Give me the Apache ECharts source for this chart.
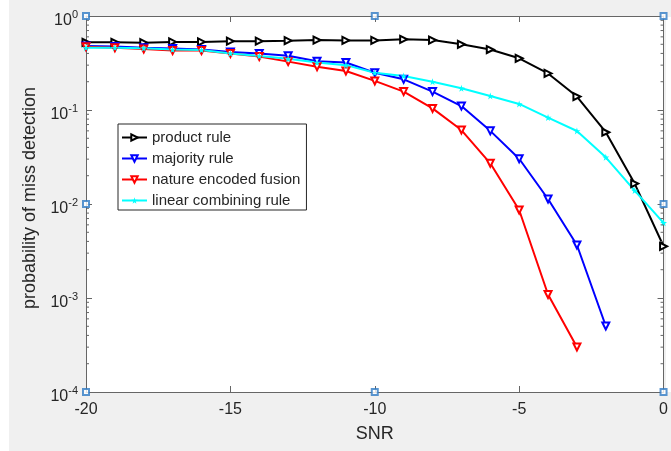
<!DOCTYPE html>
<html>
<head>
<meta charset="utf-8">
<script src="https://cdn.jsdelivr.net/npm/echarts@6/dist/echarts.min.js"></script>
<style>html,body{margin:0;padding:0;background:#f0f0f0;}#c{width:671px;height:451px;}</style>
</head>
<body>
<div id="c"></div>
<script>
// ---- data ----
const snr = [-20,-19,-18,-17,-16,-15,-14,-13,-12,-11,-10,-9,-8,-7,-6,-5,-4,-3,-2,-1,0];
const productRule = [0.525,0.525,0.52,0.53,0.53,0.54,0.54,0.546,0.555,0.55,0.55,0.565,0.555,0.50,0.44,0.355,0.245,0.139,0.058,0.0165,0.00355];
const majorityRule = [0.48,0.475,0.46,0.45,0.44,0.415,0.40,0.378,0.33,0.32,0.249,0.212,0.157,0.110,0.060,0.0303,0.0113,0.00366,0.000504];
const natureEncoded = [0.47,0.46,0.445,0.43,0.43,0.40,0.37,0.327,0.289,0.26,0.204,0.157,0.104,0.0612,0.0271,0.00863,0.00109,0.000301];
const linearCombining = [0.46,0.46,0.455,0.44,0.435,0.40,0.375,0.35,0.32,0.30,0.249,0.23,0.20,0.17,0.141,0.116,0.083,0.0598,0.0314,0.0139,0.0063];
const seriesNames = ['product rule','majority rule','nature encoded fusion','linear combining rule'];
const xTicks = [-20,-15,-10,-5,0];
const yDecades = [1e-4,1e-3,1e-2,1e-1];
const minorMultipliers = [2,3,4,5,6,7,8,9];
const handleX = [-20,-10,0,-20,0,-20,-10,0];
const handleY = [1,1,1,1e-2,1e-2,1e-4,1e-4,1e-4];

const X_MIN = xTicks[0], X_MAX = xTicks[xTicks.length-1];
const minorTickValues = [];
yDecades.forEach(d => minorMultipliers.forEach(m => minorTickValues.push(d*m)));

function pairs(vals){ return vals.map((v,i)=>[snr[i], v]); }

const AX = '#666';
const TXT = '#262626';
const FONT = 'Liberation Sans, Arial, Helvetica, sans-serif';
const star = 'path://M50,0 L61,35 L98,35 L68,57 L79,91 L50,70 L21,91 L32,57 L2,35 L39,35 Z';

const chart = echarts.init(document.getElementById('c'), null, {renderer:'canvas'});
const yLabel = {
  color: TXT, fontFamily: FONT, margin: 8,
  formatter: function(v){ const e = Math.round(Math.log10(v)); return '{b|10}{s|' + e + '}'; },
  rich: {
    b: {fontSize: 16, lineHeight: 16, padding: [10,0,0,0], fontFamily: FONT, color: TXT},
    s: {fontSize: 11, lineHeight: 11, padding: [6,0,9,0], fontFamily: FONT, color: TXT}
  }
};
const option = {
  backgroundColor: '#f0f0f0',
  animation: false,
  textStyle: {fontFamily: FONT},
  graphic: [
    {type:'rect', left:0, top:0, shape:{width:9, height:451}, style:{fill:'#ffffff'}, silent:true},
    {type:'rect', left:666, top:17, shape:{width:5, height:375}, style:{fill:'#ffffff'}, silent:true}
  ],
  grid: {left: 86, right: 6, top: 16, bottom: 59, show: true, backgroundColor: '#ffffff', borderWidth: 0},
  legend: {
    data: seriesNames,
    orient: 'vertical', left: 118, top: 124,
    itemWidth: 25, itemHeight: 8, itemGap: 6,
    padding: [6, 6, 2, 3],
    backgroundColor: '#ffffff', borderColor: '#262626', borderWidth: 1, borderRadius: 0,
    textStyle: {fontSize: 15, color: TXT, fontFamily: FONT}
  },
  xAxis: [
    {type:'value', min: X_MIN, max: X_MAX, interval: 5, position:'bottom',
     name:'SNR', nameLocation:'middle', nameGap: 33,
     nameTextStyle:{fontSize:18, color:TXT, fontFamily:FONT},
     axisLine:{show:true, onZero:false, lineStyle:{color:AX, width:1}},
     axisTick:{show:true, inside:true, length:6, lineStyle:{color:AX}},
     axisLabel:{fontSize:16, color:TXT, margin:10, fontFamily:FONT},
     splitLine:{show:false}},
    {type:'value', min: X_MIN, max: X_MAX, interval: 5, position:'top',
     axisLine:{show:true, onZero:false, lineStyle:{color:AX, width:1}},
     axisTick:{show:true, inside:true, length:6, lineStyle:{color:AX}},
     axisLabel:{show:false}, splitLine:{show:false}}
  ],
  yAxis: [
    {type:'log', logBase:10, min:1e-4, max:1, position:'left',
     name:'probability of miss detection', nameLocation:'middle', nameGap: 41,
     nameTextStyle:{fontSize:18, color:TXT, fontFamily:FONT, padding:[0,0,0,12]},
     axisLine:{show:true, onZero:false, lineStyle:{color:AX, width:1}},
     axisTick:{show:true, inside:true, length:6, lineStyle:{color:AX}},
     axisLabel: yLabel, splitLine:{show:false}},
    {type:'log', logBase:10, min:1e-4, max:1, position:'right',
     axisLine:{show:true, onZero:false, lineStyle:{color:AX, width:1}},
     axisTick:{show:true, inside:true, length:6, lineStyle:{color:AX}},
     axisLabel:{show:false}, splitLine:{show:false}}
  ],
  series: [
    {type:'custom', name:'minorTicks', silent:true, z:5,
     data: minorTickValues.map(v => [X_MIN, v]),
     renderItem: function(params, api){
       const v = api.value(1);
       const pL = api.coord([X_MIN, v]);
       const pR = api.coord([X_MAX, v]);
       return {type:'group', children:[
         {type:'line', shape:{x1:pL[0], y1:pL[1], x2:pL[0]+3, y2:pL[1]}, style:{stroke:AX, lineWidth:1}},
         {type:'line', shape:{x1:pR[0], y1:pR[1], x2:pR[0]-3, y2:pR[1]}, style:{stroke:AX, lineWidth:1}}
       ]};
     }},
    {type:'line', name: seriesNames[0], data: pairs(productRule),
     symbol:'emptyTriangle', symbolRotate:-90, symbolSize:7,
     lineStyle:{color:'#000000', width:2}, itemStyle:{color:'#000000', borderWidth:1.5}},
    {type:'line', name: seriesNames[1], data: pairs(majorityRule),
     symbol:'emptyTriangle', symbolRotate:180, symbolSize:7,
     lineStyle:{color:'#0000ff', width:2}, itemStyle:{color:'#0000ff', borderWidth:1.5}},
    {type:'line', name: seriesNames[2], data: pairs(natureEncoded),
     symbol:'emptyTriangle', symbolRotate:180, symbolSize:7,
     lineStyle:{color:'#ff0000', width:2}, itemStyle:{color:'#ff0000', borderWidth:1.5}},
    {type:'line', name: seriesNames[3], data: pairs(linearCombining),
     symbol: star, symbolSize:7,
     lineStyle:{color:'#00ffff', width:2}, itemStyle:{color:'#00ffff'}},
    {type:'scatter', name:'handles', silent:true, z:10,
     data: handleX.map((x,i)=>[x, handleY[i]]),
     symbol:'emptyRect', symbolSize:6,
     itemStyle:{color:'#2f7bc4', borderWidth:1.5}}
  ]
};
chart.setOption(option);
</script>
</body>
</html>
